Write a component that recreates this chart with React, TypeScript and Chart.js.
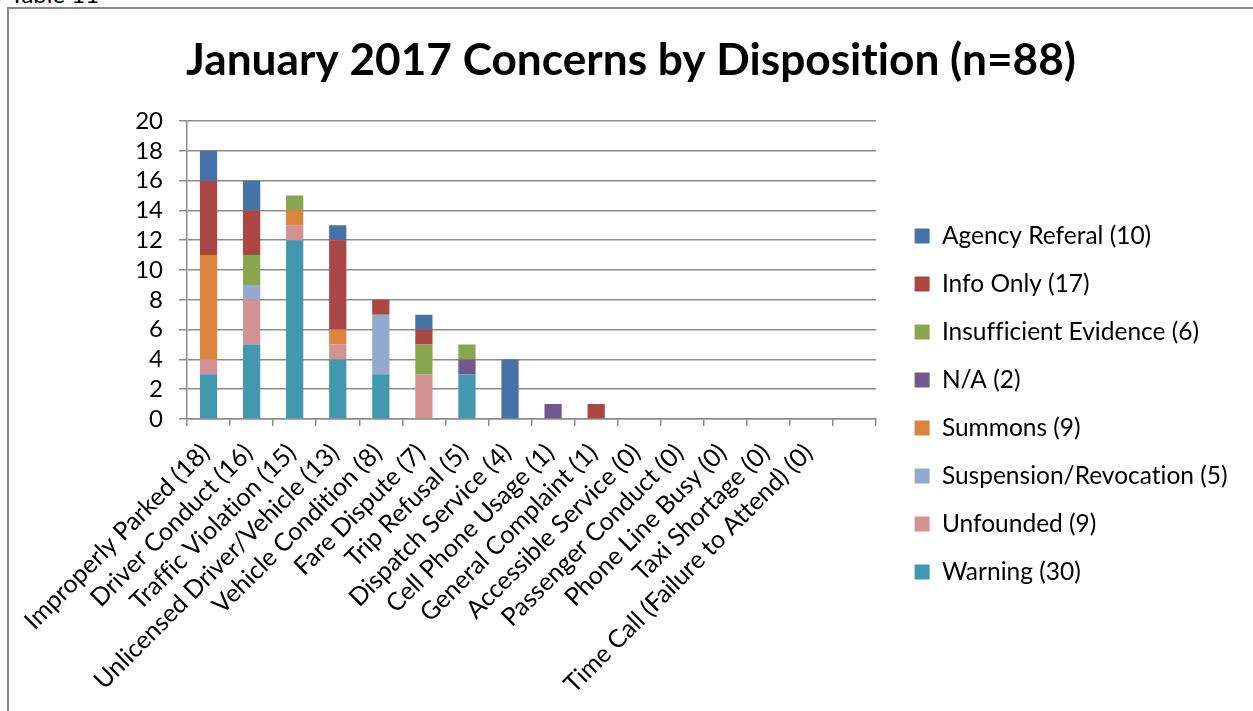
import React, { useEffect, useRef } from "react";
import { Chart, registerables } from "chart.js";

Chart.register(...registerables);

const TITLE = "January 2017 Concerns by Disposition (n=88)";

const categories = [
  "Improperly Parked (18)",
  "Driver Conduct (16)",
  "Traffic Violation (15)",
  "Unlicensed Driver/Vehicle (13)",
  "Vehicle Condition (8)",
  "Fare Dispute (7)",
  "Trip Refusal (5)",
  "Dispatch Service (4)",
  "Cell Phone Usage (1)",
  "General Complaint (1)",
  "Accessible Service (0)",
  "Passenger Conduct (0)",
  "Phone Line Busy (0)",
  "Taxi Shortage (0)",
  "Time Call (Failure to Attend) (0)",
  "",
];

// stacking order: bottom to top
const warning = [3, 5, 12, 4, 3, 0, 3, 0, 0, 0, 0, 0, 0, 0, 0, 0];
const unfounded = [1, 3, 1, 1, 0, 3, 0, 0, 0, 0, 0, 0, 0, 0, 0, 0];
const suspension = [0, 1, 0, 0, 4, 0, 0, 0, 0, 0, 0, 0, 0, 0, 0, 0];
const summons = [7, 0, 1, 1, 0, 0, 0, 0, 0, 0, 0, 0, 0, 0, 0, 0];
const notApplicable = [0, 0, 0, 0, 0, 0, 1, 0, 1, 0, 0, 0, 0, 0, 0, 0];
const insufficient = [0, 2, 1, 0, 0, 2, 1, 0, 0, 0, 0, 0, 0, 0, 0, 0];
const infoOnly = [5, 3, 0, 6, 1, 1, 0, 0, 0, 1, 0, 0, 0, 0, 0, 0];
const agencyReferal = [2, 2, 0, 1, 0, 1, 0, 4, 0, 0, 0, 0, 0, 0, 0, 0];

const seriesNames = [
  "Warning (30)",
  "Unfounded (9)",
  "Suspension/Revocation (5)",
  "Summons (9)",
  "N/A (2)",
  "Insufficient Evidence (6)",
  "Info Only (17)",
  "Agency Referal (10)",
];
const seriesValues = [warning, unfounded, suspension, summons, notApplicable, insufficient, infoOnly, agencyReferal];
const seriesColors = ["#4198AF", "#D19392", "#93A9CF", "#DB843D", "#71588F", "#89A54E", "#AA4643", "#4572A7"];

const yTicks = [0, 2, 4, 6, 8, 10, 12, 14, 16, 18, 20];

const FONT = "Lato";
const GRID = "#8c8c8c";

const noLigatures = {
  id: "noLigatures",
  beforeInit(chart: any) {
    try {
      chart.ctx.textRendering = "optimizeSpeed";
    } catch (e) {}
  },
  beforeDraw(chart: any) {
    try {
      chart.ctx.textRendering = "optimizeSpeed";
    } catch (e) {}
  },
};

export default function App() {
  const ref = useRef<HTMLCanvasElement | null>(null);

  useEffect(() => {
    if (!ref.current) return;
    const chart = new Chart(ref.current, {
      type: "bar",
      plugins: [noLigatures],
      data: {
        labels: categories,
        datasets: seriesNames.map((name, i) => ({
          label: name,
          data: seriesValues[i],
          backgroundColor: seriesColors[i],
          borderWidth: 0,
          categoryPercentage: 1,
          barPercentage: 0.4,
          yAxisID: "y",
        })),
      },
      options: {
        responsive: false,
        animation: false,
        layout: { padding: { left: 15, right: 15, top: 0, bottom: 0 } },
        plugins: {
          title: {
            display: true,
            text: TITLE,
            color: "#000",
            font: { family: FONT, size: 44.2, weight: "bold" },
            padding: { top: 25, bottom: 34 },
          },
          legend: {
            position: "right",
            reverse: true,
            maxWidth: 355,
            title: { display: true, text: " ", font: { size: 10 }, padding: 38 },
            labels: {
              color: "#000",
              font: { family: FONT, size: 24.5 },
              boxWidth: 15,
              boxHeight: 15,
              padding: 23.5,
            },
          },
          tooltip: { enabled: false },
        },
        scales: {
          x: {
            stacked: true,
            afterFit: (axis: any) => {
              axis.height = 292;
            },
            grid: {
              display: true,
              drawOnChartArea: false,
              drawTicks: true,
              tickLength: 7,
              offset: true,
              color: GRID,
              lineWidth: 1.5,
            },
            border: { display: true, color: GRID, width: 1.5 },
            ticks: {
              color: "#000",
              font: { family: FONT, size: 25 },
              maxRotation: 45,
              minRotation: 45,
              autoSkip: false,
              padding: 12,
              labelOffset: -3,
            },
          },
          y: {
            stacked: true,
            min: 0,
            max: 20,
            afterFit: (axis: any) => {
              axis.width = 163;
            },
            afterBuildTicks: (axis: any) => {
              axis.ticks = yTicks.map((v) => ({ value: v }));
            },
            grid: { color: GRID, lineWidth: 1.5, tickLength: 8 },
            border: { display: true, color: GRID, width: 1.5 },
            ticks: {
              color: "#000",
              font: { family: FONT, size: 24 },
              padding: 16,
              autoSkip: false,
            },
          },
          gap: {
            type: "linear",
            position: "right",
            min: 0,
            max: 20,
            afterFit: (axis: any) => {
              axis.width = 15;
            },
            grid: { display: false, drawOnChartArea: false, drawTicks: false },
            border: { display: false },
            ticks: { display: false },
          },
        },
      },
    });
    return () => chart.destroy();
  }, []);

  return (
    <div style={{ position: "fixed", left: 0, top: 0, width: 1253, height: 711, overflow: "hidden", background: "#fff" }}>
      <div style={{ position: "absolute", left: 10, top: -18, fontFamily: FONT, fontSize: 24, lineHeight: "24px", color: "#000" }}>
        Table 11
      </div>
      <div
        style={{
          position: "absolute",
          left: 7,
          top: 7,
          width: 1400,
          height: 900,
          borderLeft: "2px solid #888",
          borderTop: "2px solid #888",
        }}
      />
      <div style={{ position: "absolute", left: 9, top: 9, width: 1244, height: 702 }}>
        <canvas ref={ref} width={1244} height={702} style={{ display: "block" }} />
      </div>
    </div>
  );
}
